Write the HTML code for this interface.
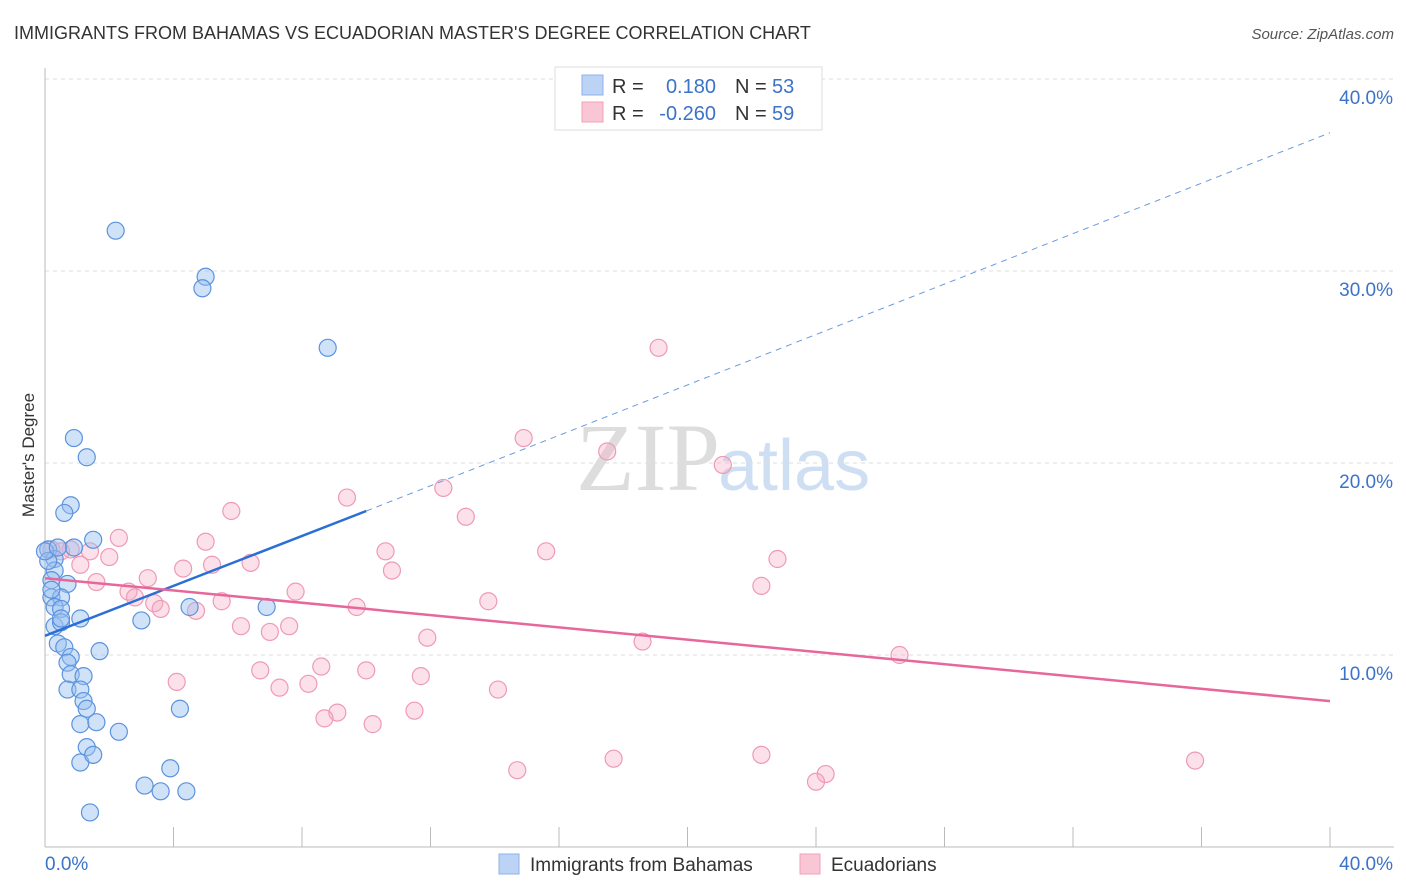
<!DOCTYPE html>
<html><head><meta charset="utf-8"><style>
body{margin:0;background:#fff;font-family:"Liberation Sans",sans-serif;}
svg{display:block}
</style></head><body>
<svg id="chart" width="1406" height="892" xmlns="http://www.w3.org/2000/svg">
<text x="14" y="39" font-size="18" fill="#333">IMMIGRANTS FROM BAHAMAS VS ECUADORIAN MASTER'S DEGREE CORRELATION CHART</text>
<text x="1394" y="39" font-size="15" fill="#555" font-style="italic" text-anchor="end">Source: ZipAtlas.com</text>
<text x="720" y="490" font-size="96" font-family="Liberation Serif,serif" fill="#ddd" text-anchor="end">ZIP</text>
<text x="718" y="490" font-size="72" fill="#cfdff3">atlas</text>
<g id="grid"></g>
<g id="axes"></g>
<g id="pts"></g>
<g id="trends"></g>
<text transform="translate(34,455) rotate(-90)" font-size="17" fill="#333" text-anchor="middle">Master's Degree</text>
<g>
<rect x="555" y="67" width="267" height="63" fill="#fff" stroke="#ddd"/>
<rect x="582" y="75" width="21" height="20" fill="#bcd3f5" stroke="#8db3ea"/>
<rect x="582" y="102" width="21" height="20" fill="#f9c6d5" stroke="#f0a0b8"/>
<text x="612" y="93" font-size="20" fill="#333">R =</text>
<text x="716" y="93" font-size="20" fill="#3b73c8" text-anchor="end">0.180</text>
<text x="735" y="93" font-size="20" fill="#333">N =</text>
<text x="772" y="93" font-size="20" fill="#3b73c8">53</text>
<text x="612" y="120" font-size="20" fill="#333">R =</text>
<text x="716" y="120" font-size="20" fill="#3b73c8" text-anchor="end">-0.260</text>
<text x="735" y="120" font-size="20" fill="#333">N =</text>
<text x="772" y="120" font-size="20" fill="#3b73c8">59</text>
</g>
<g>
<rect x="499" y="854" width="20" height="20" fill="#bcd3f5" stroke="#8db3ea"/>
<text x="530" y="871" font-size="19" fill="#333">Immigrants from Bahamas</text>
<rect x="800" y="854" width="20" height="20" fill="#f9c6d5" stroke="#f0a0b8"/>
<text x="831" y="871" font-size="19" fill="#333">Ecuadorians</text>
</g>
</svg>
<script>
const yTicks=[10,20,30,40];
const xTickLabels=["0.0%","40.0%"];
const blueX=[2.2,5.0,4.9,8.8,0.9,1.3,0.8,0.6,1.5,0.9,0.1,0.3,0.3,0.2,0.7,0.2,0.5,0.3,0.5,1.1,0.3,0.5,0.4,0.6,1.7,0.8,0.7,0.8,1.2,0.7,1.1,1.2,1.3,1.1,1.6,2.3,4.2,3.0,4.5,6.9,1.3,1.1,1.5,3.9,3.1,3.6,4.4,1.4,0.1,0.2,0.0,0.5,0.4];
const blueY=[32.1,29.7,29.1,26.0,21.3,20.3,17.8,17.4,16.0,15.6,15.5,15.0,14.4,13.9,13.7,13.0,13.0,12.5,12.4,11.9,11.5,11.7,10.6,10.4,10.2,9.9,9.6,9.0,8.9,8.2,8.2,7.6,7.2,6.4,6.5,6.0,7.2,11.8,12.5,12.5,5.2,4.4,4.8,4.1,3.2,2.9,2.9,1.8,14.9,13.4,15.4,11.9,15.6];
const pinkX=[19.1,14.9,17.5,21.1,12.4,9.4,13.1,5.8,2.3,5.0,10.6,15.6,1.4,0.8,0.5,0.2,2.0,1.1,22.8,6.4,10.8,4.3,5.2,3.2,1.6,7.8,22.3,2.6,2.8,5.5,13.8,3.4,3.6,4.7,9.7,6.1,7.0,7.6,11.9,18.6,26.6,4.1,6.7,8.6,10.0,11.7,7.3,8.2,14.1,9.1,8.7,10.2,11.5,14.7,17.7,22.3,24.3,24.0,35.8];
const pinkY=[26.0,21.3,20.6,19.9,18.7,18.2,17.2,17.5,16.1,15.9,15.4,15.4,15.4,15.5,15.4,15.5,15.1,14.7,15.0,14.8,14.4,14.5,14.7,14.0,13.8,13.3,13.6,13.3,13.0,12.8,12.8,12.7,12.4,12.3,12.5,11.5,11.2,11.5,10.9,10.7,10.0,8.6,9.2,9.4,9.2,8.9,8.3,8.5,8.2,7.0,6.7,6.4,7.1,4.0,4.6,4.8,3.8,3.4,4.5];
const blueTrend=[[0,11.0],[10.0,17.5],[40,37.2]];
const pinkTrend=[[0,14.0],[40,7.6]];
const X0=45,X1=1330,Y0=847,Y1=79;
const sx=v=>X0+(X1-X0)*v/40, sy=v=>Y0-(Y0-Y1)*v/40;
const NS="http://www.w3.org/2000/svg";
function mk(parent,tag,attrs){const e=document.createElementNS(NS,tag);for(const k in attrs)e.setAttribute(k,attrs[k]);document.getElementById(parent).appendChild(e);return e;}
yTicks.forEach(t=>{
 const l=mk('grid','line',{x1:X0,x2:1394,y1:sy(t),y2:sy(t),stroke:'#ddd','stroke-dasharray':'4,4'});
 
 
 const tx=mk('axes','text',{x:1393,y:sy(t)+25,'font-size':19,fill:'#3b73c8','text-anchor':'end'});
 tx.textContent=t.toFixed(1)+'%';
 
 
});
const ax=mk('axes','line',{x1:X0,x2:X0,y1:68,y2:847,stroke:'#bbb'});


const bx=mk('axes','line',{x1:X0,x2:1394,y1:847,y2:847,stroke:'#bbb'});


for(let i=0;i<=10;i++){const t=mk('axes','line',{x1:sx(i*4),x2:sx(i*4),y1:827,y2:847,stroke:'#bbb'});
 
 }
[[0,'start',xTickLabels[0]],[40,'end',xTickLabels[1]]].forEach(([v,a,s],i)=>{
 const t=mk('axes','text',{x:i?1393:45,y:870,'font-size':19,fill:'#3b73c8','text-anchor':a});t.textContent=s;
 
 
});
function pts(xs,ys,fill,stroke,name){xs.forEach((x,i)=>{const c=mk('pts','circle',{cx:sx(x),cy:sy(ys[i]),r:8.5,fill:fill,stroke:stroke,'stroke-width':1.2});
 
 });}
pts(pinkX,pinkY,'rgba(246,170,194,0.35)','#ef9ab5','ecuadorian-point');
pts(blueX,blueY,'rgba(150,190,240,0.45)','#5b93de','bahamas-point');
let l=mk('trends','line',{x1:sx(blueTrend[0][0]),y1:sy(blueTrend[0][1]),x2:sx(blueTrend[1][0]),y2:sy(blueTrend[1][1]),stroke:'#2a6fd6','stroke-width':2.5});


l=mk('trends','line',{x1:sx(blueTrend[1][0]),y1:sy(blueTrend[1][1]),x2:sx(blueTrend[2][0]),y2:sy(blueTrend[2][1]),stroke:'#6a9be0','stroke-width':1,'stroke-dasharray':'6,5'});


l=mk('trends','line',{x1:sx(pinkTrend[0][0]),y1:sy(pinkTrend[0][1]),x2:sx(pinkTrend[1][0]),y2:sy(pinkTrend[1][1]),stroke:'#e8679a','stroke-width':2.5});


</script>
</body></html>
